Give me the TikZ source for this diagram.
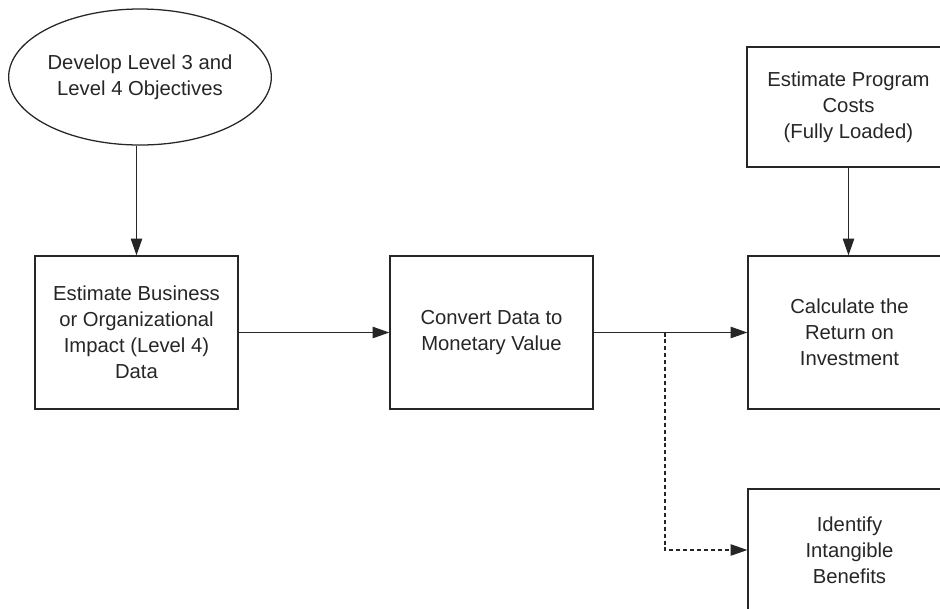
\documentclass[tikz,border=0pt]{standalone}
\usepackage{fontspec}
\setmainfont{Liberation Sans}
\usetikzlibrary{shapes.geometric,arrows.meta}
\definecolor{ink}{HTML}{262626}
\begin{document}
\begin{tikzpicture}[x=0.75pt,y=-0.75pt,
  every node/.style={font=\fontsize{15.2pt}{19.5pt}\selectfont, text=ink, align=center},
  stepbox/.style={draw=ink, line width=0.95pt, rectangle, inner sep=0pt,
    minimum width=152.25pt, minimum height=114.75pt},
  goal/.style={draw=ink, line width=0.95pt, ellipse, inner sep=0pt,
    minimum width=197pt, minimum height=102pt},
  arr/.style={draw=ink, line width=0.95pt, -{Triangle[length=12.5pt,width=8.5pt]}},
  dasharr/.style={arr, dash pattern=on 3pt off 2.2pt}
]
\useasboundingbox (0,0) rectangle (940,608);
\clip (0,0) rectangle (940,608);

% objectives and process chain
\node[goal] (obj) at (140,77) {Develop Level 3 and\\Level 4 Objectives};
\node[stepbox] (impact) at (136.5,332.5) {Estimate Business\\or Organizational\\Impact (Level 4)\\Data};
\node[stepbox] (convert) at (491.5,332.5) {Convert Data to\\Monetary Value};
\node[stepbox] (roi) at (849.5,332.5) {Calculate the\\Return on\\Investment};
\node[stepbox, minimum height=90pt] (costs) at (848.5,107) {Estimate Program\\Costs\\(Fully Loaded)};
\node[stepbox, minimum height=91.5pt] (intang) at (849.5,550) {Identify\\Intangible\\Benefits};

% branch point for the intangible benefits path
\coordinate (split) at (665,332.5);

\draw[arr] (obj.south -| impact.north) -- (impact.north);
\draw[arr] (impact.east) -- (convert.west);
\draw[arr] (convert.east) -- (roi.west);
\draw[arr] (costs.south) -- (roi.north -| costs.south);
\draw[dasharr] (split) |- (intang.west);
\end{tikzpicture}
\end{document}
